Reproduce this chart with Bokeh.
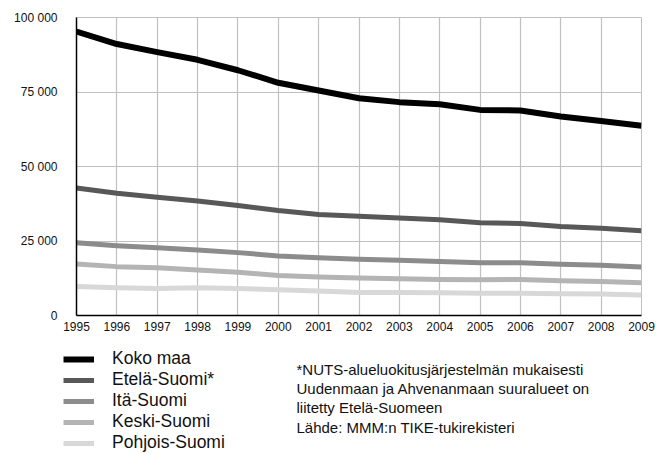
from bokeh.plotting import figure
from bokeh.layouts import column
from bokeh.models import FixedTicker, Legend, LegendItem, Label, Range1d
from bokeh.embed import file_html
from bokeh.resources import INLINE

# Number of farms by major region, 1995-2009
years = list(range(1995, 2010))
koko_maa = [95300, 91100, 88400, 85800, 82300, 78100, 75500, 72900,
            71600, 70900, 69000, 68800, 66800, 65300, 63700]
etela_suomi = [42800, 41000, 39700, 38400, 36900, 35200, 33900, 33300,
               32700, 32100, 31100, 30900, 29900, 29300, 28400]
ita_suomi = [24400, 23400, 22700, 22000, 21100, 20000, 19400, 18900,
             18500, 18100, 17700, 17700, 17200, 16900, 16300]
keski_suomi = [17300, 16400, 16000, 15300, 14500, 13400, 12900, 12600,
               12300, 12100, 12000, 12100, 11700, 11400, 11000]
pohjois_suomi = [9700, 9300, 9100, 9300, 9100, 8600, 8200, 7700,
                 7700, 7600, 7500, 7500, 7300, 7200, 6900]

series_names = ["Koko maa", "Etelä-Suomi*", "Itä-Suomi", "Keski-Suomi", "Pohjois-Suomi"]
series_values = [koko_maa, etela_suomi, ita_suomi, keski_suomi, pohjois_suomi]
series_colors = ["#000000", "#585858", "#8c8c8c", "#b4b4b4", "#d8d8d8"]
series_widths = [6, 5, 5, 5, 5]

y_ticks = [0, 25000, 50000, 75000, 100000]
y_tick_labels = ["0", "25 000", "50 000", "75 000", "100 000"]

footnote_lines = [
    "*NUTS-alueluokitusjärjestelmän mukaisesti",
    "Uudenmaan ja Ahvenanmaan suuralueet on",
    "liitetty Etelä-Suomeen",
    "Lähde: MMM:n TIKE-tukirekisteri",
]

FONT = "Liberation Sans"
TEXT_COLOR = "#111111"

# ---- main chart ----
p = figure(width=656, height=340, output_backend="svg", toolbar_location=None,
           x_range=(1995, 2009), y_range=(0, 100000),
           min_border_left=76, min_border_right=15,
           min_border_top=17, min_border_bottom=25)
p.frame_align = False
p.background_fill_color = "white"
p.border_fill_color = "white"
p.outline_line_color = "#c0c0c0"

p.xaxis.ticker = FixedTicker(ticks=years)
p.yaxis.ticker = FixedTicker(ticks=y_ticks)
p.yaxis.major_label_overrides = {t: s for t, s in zip(y_ticks, y_tick_labels)}
for ax in (p.xaxis[0], p.yaxis[0]):
    ax.axis_line_color = "black"
    ax.axis_line_width = 1.5
    ax.major_tick_line_color = None
    ax.minor_tick_line_color = None
    ax.major_tick_out = 0
    ax.major_tick_in = 0
    ax.major_label_text_font = FONT
    ax.major_label_text_font_size = "12px"
    ax.major_label_text_color = TEXT_COLOR
p.yaxis.major_label_standoff = 19
p.xaxis.major_label_standoff = 6

p.xgrid.ticker = FixedTicker(ticks=years)
p.ygrid.ticker = FixedTicker(ticks=y_ticks)
for g in (p.xgrid[0], p.ygrid[0]):
    g.grid_line_color = "#c0c0c0"
    g.grid_line_width = 1.2

# lightest series first so the national total sits on top
for vals, col, w in reversed(list(zip(series_values, series_colors, series_widths))):
    p.line(years, vals, line_color=col, line_width=w, line_join="round")

# ---- legend and footnote panel (page-pixel coordinates) ----
q = figure(width=656, height=114, output_backend="svg", toolbar_location=None,
           x_range=Range1d(0, 656), y_range=Range1d(454, 340),
           min_border=0, x_axis_type=None, y_axis_type=None)
q.frame_align = False
q.outline_line_color = None
q.grid.visible = False
q.background_fill_color = "white"
q.border_fill_color = "white"

items = []
for name, col, w in zip(series_names, series_colors, series_widths):
    r = q.line([0], [float("nan")], line_color=col, line_width=w)
    items.append(LegendItem(label=name, renderers=[r]))

legend = Legend(items=items, location=(63, 1))
legend.border_line_color = None
legend.background_fill_alpha = 0
legend.padding = 0
legend.margin = 0
legend.spacing = 0
legend.glyph_width = 31
legend.glyph_height = 18
legend.label_height = 18
legend.label_standoff = 18
legend.label_text_font = FONT
legend.label_text_font_size = "17.5px"
legend.label_text_color = TEXT_COLOR
q.add_layout(legend, "center")

for i, line in enumerate(footnote_lines):
    q.add_layout(Label(x=296, y=369 + 19.2 * i, text=line, text_font=FONT,
                       text_font_size="15px", text_color=TEXT_COLOR,
                       text_baseline="middle"))

open("out.html", "w").write(file_html(column(p, q, spacing=0), INLINE))
